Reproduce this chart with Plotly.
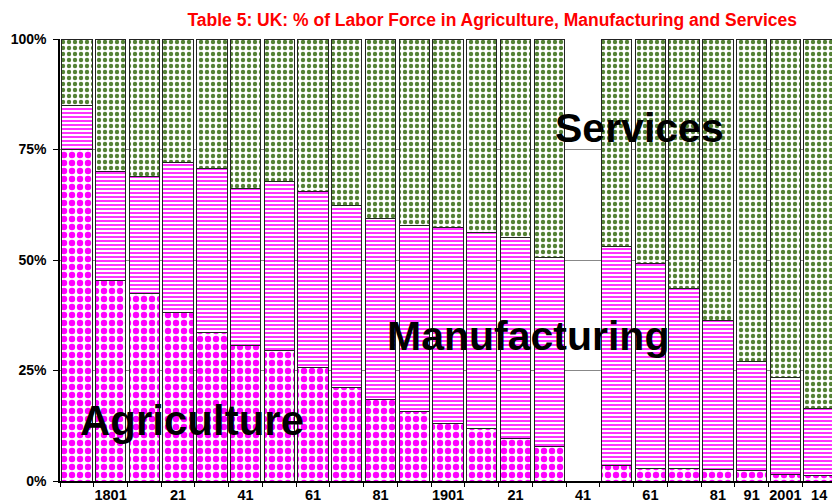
import plotly.graph_objects as go

years = ["1791", "1801", "1811", "1821", "1831", "1841", "1851", "1861", "1871", "1881",
         "1891", "1901", "1911", "1921", "1931", "1941", "1951", "1961", "1971", "1981",
         "1991", "2001", "2014"]
tick_labels = ["", "1801", "", "21", "", "41", "", "61", "", "81",
               "", "1901", "", "21", "", "41", "", "61", "", "81",
               "91", "2001", "14"]
y_ticks = [0, 25, 50, 75, 100]
y_tick_labels = ["0%", "25%", "50%", "75%", "100%"]

agriculture = [74.9, 45.4, 42.5, 38.2, 33.6, 30.6, 29.5, 25.6, 21.2, 18.4,
               15.8, 13.0, 11.9, 9.6, 7.7, None, 3.4, 2.9, 2.8, 2.5,
               2.3, 1.5, 1.2]
manufacturing = [10.1, 24.6, 26.5, 33.8, 37.0, 35.5, 38.2, 39.9, 41.1, 40.9,
                 41.9, 44.3, 44.4, 45.5, 42.9, None, 49.6, 46.4, 40.7, 33.8,
                 24.7, 22.0, 15.2]
services = [15.0, 30.0, 31.0, 28.0, 29.4, 33.9, 32.3, 34.5, 37.7, 40.7,
            42.3, 42.7, 43.7, 44.9, 49.4, None, 47.0, 50.7, 56.5, 63.7,
            73.0, 76.5, 83.6]

FONT = "Liberation Sans, Arial, sans-serif"
line = dict(color="#222222", width=1)

fig = go.Figure()
fig.add_trace(go.Bar(
    x=years, y=agriculture, name="Agriculture",
    marker=dict(color="white", line=line,
                pattern=dict(shape=".", fgcolor="#ff00ff", bgcolor="white",
                             size=8, solidity=0.5, fillmode="replace")),
))
fig.add_trace(go.Bar(
    x=years, y=manufacturing, name="Manufacturing",
    marker=dict(color="white", line=line,
                pattern=dict(shape="-", fgcolor="#ff33ff", bgcolor="white",
                             size=4, solidity=0.5, fillmode="replace")),
))
fig.add_trace(go.Bar(
    x=years, y=services, name="Services",
    marker=dict(color="white", line=line,
                pattern=dict(shape=".", fgcolor="#548235", bgcolor="white",
                             size=6, solidity=0.42, fillmode="replace")),
))

fig.update_layout(
    barmode="stack",
    bargap=0.1,
    width=832, height=495,
    margin=dict(l=52, r=4, t=31, b=22, autoexpand=False),
    paper_bgcolor="white", plot_bgcolor="white",
    showlegend=False,
    font=dict(family=FONT, color="black"),
    title=dict(text="<b>Table 5: UK: % of Labor Force in Agriculture, Manufacturing and Services</b>",
               font=dict(family=FONT, size=17.5, color="#ff0000"),
               xref="container", x=0.582, xanchor="center",
               yref="container", y=0.976, yanchor="middle", automargin=False),
    xaxis=dict(type="category", tickmode="array", tickvals=years, ticktext=tick_labels,
               tickson="boundaries", ticks="outside", ticklen=4, tickcolor="black",
               showline=True, linecolor="black", linewidth=1.5,
               showgrid=False, tickangle=0, automargin=False,
               tickfont=dict(family=FONT, size=14.5, color="black", weight="bold")),
    yaxis=dict(range=[0, 100], tickmode="array", tickvals=y_ticks, ticktext=y_tick_labels,
               ticks="outside", ticklen=5, tickcolor="black", ticklabelstandoff=4,
               showline=True, linecolor="black", linewidth=1.5,
               showgrid=True, gridcolor="#888888", gridwidth=1, zeroline=False,
               automargin=False,
               tickfont=dict(family=FONT, size=14, color="black", weight="bold")),
    annotations=[
        dict(text="<b>Services</b>", xref="paper", yref="paper", x=0.747, y=0.798,
             xanchor="center", yanchor="middle",
             showarrow=False, font=dict(family=FONT, size=41, color="black")),
        dict(text="<b>Manufacturing</b>", xref="paper", yref="paper", x=0.603, y=0.329,
             xanchor="center", yanchor="middle",
             showarrow=False, font=dict(family=FONT, size=41, color="black")),
        dict(text="<b>Agriculture</b>", xref="paper", yref="paper", x=0.170, y=0.137,
             xanchor="center", yanchor="middle",
             showarrow=False, font=dict(family=FONT, size=42, color="black")),
    ],
)

fig.write_html("out.html")
